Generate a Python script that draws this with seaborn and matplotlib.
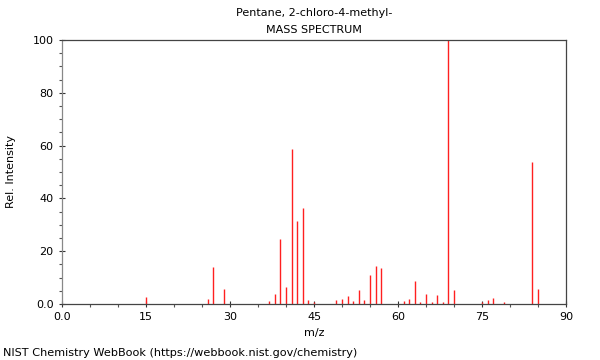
import matplotlib
matplotlib.use("Agg")
import matplotlib.pyplot as plt
from matplotlib.ticker import MultipleLocator, FuncFormatter
import seaborn as sns

# spectrum data (m/z, relative intensity)
mz = [15, 26, 27, 29, 37, 38, 39, 40, 41, 42, 43, 44, 45,
      49, 50, 51, 52, 53, 54, 55, 56, 57,
      61, 62, 63, 64, 65, 66, 67, 68, 69, 70,
      75, 76, 77, 79, 84, 85]
intensity = [2.7, 1.9, 14.0, 5.7, 1.1, 3.7, 24.6, 6.3, 58.7, 31.6, 36.5, 1.5, 0.9,
             1.6, 1.9, 3.2, 1.1, 5.4, 1.6, 11.0, 14.3, 13.8,
             1.1, 1.8, 8.7, 0.8, 3.8, 0.8, 3.3, 0.8, 100.0, 5.4,
             0.8, 1.5, 2.4, 0.8, 53.8, 5.8]

title_lines = ["Pentane, 2-chloro-4-methyl-", "MASS SPECTRUM"]
footer = "NIST Chemistry WebBook (https://webbook.nist.gov/chemistry)"

sns.set_style("ticks")
plt.rcParams['font.family'] = ['DejaVu Sans']
plt.rcParams['text.color'] = 'black'
plt.rcParams['axes.labelcolor'] = 'black'

fig = plt.figure(figsize=(6, 3.6), dpi=100)
ax = fig.add_axes([62 / 600, 1 - 304 / 360, (566 - 62) / 600, (304 - 40) / 360])

ax.vlines(mz, 0, intensity, colors='#ff2020', linewidth=1.0)

ax.set_xlim(0, 90)
ax.set_ylim(0, 100)
ax.xaxis.set_major_locator(MultipleLocator(15))
ax.xaxis.set_minor_locator(MultipleLocator(5))
ax.yaxis.set_major_locator(MultipleLocator(20))
ax.yaxis.set_minor_locator(MultipleLocator(5))
fmt = FuncFormatter(lambda v, p: "0.0" if v == 0 else "%g" % v)
ax.xaxis.set_major_formatter(fmt)
ax.yaxis.set_major_formatter(fmt)

ax.tick_params(which='major', direction='inout', length=5, width=0.8, labelsize=8, colors='#333333',
               labelcolor='black')
ax.tick_params(which='minor', direction='out', length=2.5, width=0.8, colors='#555555')
for s in ax.spines.values():
    s.set_color('#444444')
    s.set_linewidth(0.9)
ax.spines['left'].set_color('#888888')

ax.set_xlabel("m/z", fontsize=8, labelpad=4)
ax.set_ylabel("Rel. Intensity", fontsize=8, labelpad=12)

fig.text(314 / 600, 1 - 13 / 360, title_lines[0], ha='center', va='center', fontsize=8)
fig.text(314 / 600, 1 - 30 / 360, title_lines[1], ha='center', va='center', fontsize=8)
fig.text(3 / 600, 1 - 353 / 360, footer, ha='left', va='center', fontsize=8.15)

fig.savefig("out.png", dpi=100)
